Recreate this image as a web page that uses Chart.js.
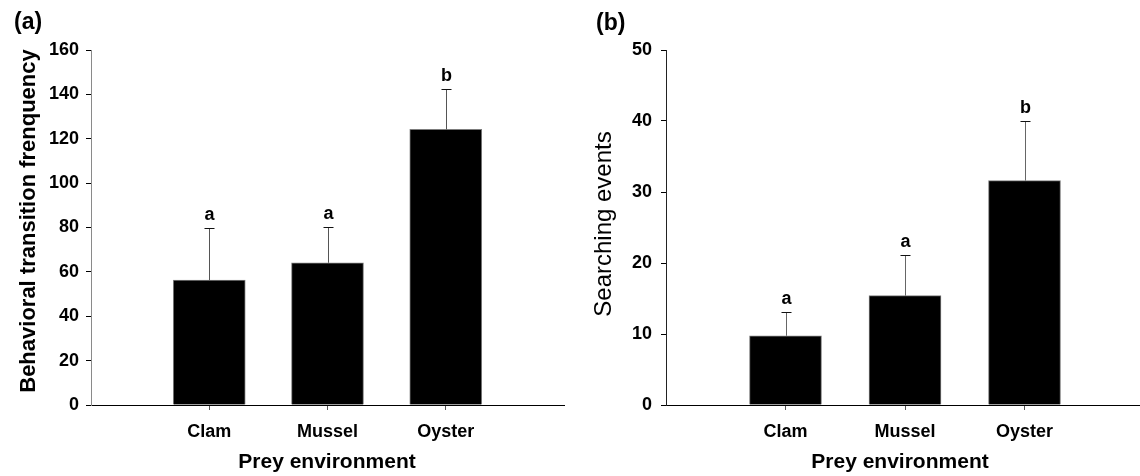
<!DOCTYPE html>
<html>
<head>
<meta charset="utf-8">
<script src="https://cdn.jsdelivr.net/npm/chart.js@4/dist/chart.umd.min.js"></script>
<style>
  html, body { margin: 0; padding: 0; background: #fff; overflow: hidden; }
  #wrap { position: relative; width: 1140px; height: 476px; overflow: hidden; background: #fff; }
  #panelA { position: absolute; left: 0; top: 0; }
  #panelB { position: absolute; left: 570px; top: 0; }
</style>
</head>
<body>
<div id="wrap">
  <canvas id="panelA" width="575" height="476"></canvas>
  <canvas id="panelB" width="585" height="476"></canvas>
</div>
<script>
// Prey environments
const categories = ['Clam', 'Mussel', 'Oyster'];

// (a) behavioural transitions: mean and standard error
const transitionMeans = [56.3, 64.1, 124.2];
const transitionSE = [23.7, 16.2, 18.0];
const transitionGroups = ['a', 'a', 'b'];

// (b) searching events: mean and standard error
const searchingMeans = [9.75, 15.4, 31.6];
const searchingSE = [3.4, 5.75, 8.4];
const searchingGroups = ['a', 'a', 'b'];

// y-axis tick ranges
const transitionTicks = { max: 160, step: 20 };
const searchingTicks = { max: 50, step: 10 };

const FONT = '"Liberation Sans", Arial, Helvetica, sans-serif';

// An empty slot on each side leaves a full category step before the first and after the last bar
const paddedLabels = ['', ...categories, ''];
const padded = arr => [null, ...arr, null];

// Upper error bars with caps, plus the significance letters above them
const errorBarPlugin = {
  id: 'errorBars',
  afterDatasetsDraw(chart, args, opts) {
    const { ctx } = chart;
    const x = chart.scales.x, y = chart.scales.y;
    ctx.save();
    opts.means.forEach((m, i) => {
      const px = Math.round(x.getPixelForValue(i + 1)) + 0.5;
      const base = y.getPixelForValue(m);
      const top = Math.round(y.getPixelForValue(m + opts.errors[i])) + 0.5;
      ctx.lineWidth = 1;
      ctx.strokeStyle = opts.lineColor;
      ctx.beginPath();
      ctx.moveTo(px, base);
      ctx.lineTo(px, top);
      ctx.stroke();
      ctx.strokeStyle = opts.capColor;
      ctx.beginPath();
      ctx.moveTo(px - opts.capHalf, top);
      ctx.lineTo(px + opts.capHalf, top);
      ctx.stroke();
      ctx.fillStyle = '#000';
      ctx.font = 'bold 18px ' + FONT;
      ctx.textAlign = 'center';
      ctx.textBaseline = 'alphabetic';
      ctx.fillText(opts.groups[i], px, top - opts.letterGap);
    });
    ctx.restore();
  }
};

// Panel tag and axis titles
const titlesPlugin = {
  id: 'panelTitles',
  afterDraw(chart, args, o) {
    const { ctx } = chart;
    ctx.save();
    ctx.fillStyle = '#000';
    ctx.textBaseline = 'middle';

    ctx.font = 'bold 23px ' + FONT;
    ctx.textAlign = 'left';
    ctx.fillText(o.tag, o.tagX, o.tagY);

    ctx.font = 'bold 21px ' + FONT;
    ctx.textAlign = 'center';
    ctx.fillText(o.xTitle, o.xTitleX, o.xTitleY);

    ctx.translate(o.yTitleX, o.yTitleY);
    ctx.rotate(-Math.PI / 2);
    ctx.font = o.yTitleFont + FONT;
    ctx.textAlign = 'center';
    ctx.fillText(o.yTitle, 0, 0);
    ctx.restore();
  }
};

function makePanel(canvas, means, errors, groups, axis, look) {
  return new Chart(canvas, {
    type: 'bar',
    data: {
      labels: paddedLabels,
      datasets: [{
        data: padded(means),
        backgroundColor: '#000',
        borderColor: '#7c7c7c',
        borderWidth: 1,
        barThickness: 72
      }]
    },
    options: {
      responsive: false,
      animation: false,
      devicePixelRatio: 1,
      layout: { padding: { top: 50, right: 0, bottom: 0, left: 0 } },
      plugins: {
        legend: { display: false },
        tooltip: { enabled: false },
        errorBars: {
          means: means, errors: errors, groups: groups,
          lineColor: look.errColor, capColor: '#111', capHalf: 5, letterGap: 9
        },
        panelTitles: look.titles
      },
      scales: {
        x: {
          type: 'category',
          offset: false,
          ticks: {
            color: '#000',
            font: { family: FONT, size: 18, weight: 'bold' },
            padding: 11,
            autoSkip: false,
            maxRotation: 0
          },
          grid: {
            offset: false,
            drawOnChartArea: false,
            tickLength: 5,
            tickColor: c => (c.index === 0 || c.index === paddedLabels.length - 1) ? 'rgba(0,0,0,0)' : '#555'
          },
          border: { color: '#000', width: 1 },
          afterFit(s) { s.height = 71; }
        },
        y: {
          min: 0,
          max: axis.max,
          ticks: {
            stepSize: axis.step,
            color: '#000',
            font: { family: FONT, size: 18, weight: 'bold' },
            padding: look.yTickPad
          },
          grid: { drawOnChartArea: false, tickLength: 5, color: '#000' },
          border: { color: look.yAxisColor, width: 1 },
          afterFit(s) { s.width = look.yWidth; }
        }
      }
    },
    plugins: [errorBarPlugin, titlesPlugin]
  });
}

makePanel(document.getElementById('panelA'), transitionMeans, transitionSE, transitionGroups, transitionTicks, {
  yWidth: 91, yTickPad: 7, yAxisColor: '#8a8a8a', errColor: '#555',
  titles: {
    tag: '(a)', tagX: 14, tagY: 23,
    xTitle: 'Prey environment', xTitleX: 327, xTitleY: 462,
    yTitle: 'Behavioral transition frenquency', yTitleFont: 'bold 22px ', yTitleX: 29, yTitleY: 221
  }
});

makePanel(document.getElementById('panelB'), searchingMeans, searchingSE, searchingGroups, searchingTicks, {
  yWidth: 96, yTickPad: 9, yAxisColor: '#222', errColor: '#666',
  titles: {
    tag: '(b)', tagX: 26, tagY: 24,
    xTitle: 'Prey environment', xTitleX: 330, xTitleY: 462,
    yTitle: 'Searching events', yTitleFont: 'normal 24px ', yTitleX: 34, yTitleY: 224
  }
});
</script>
</body>
</html>
